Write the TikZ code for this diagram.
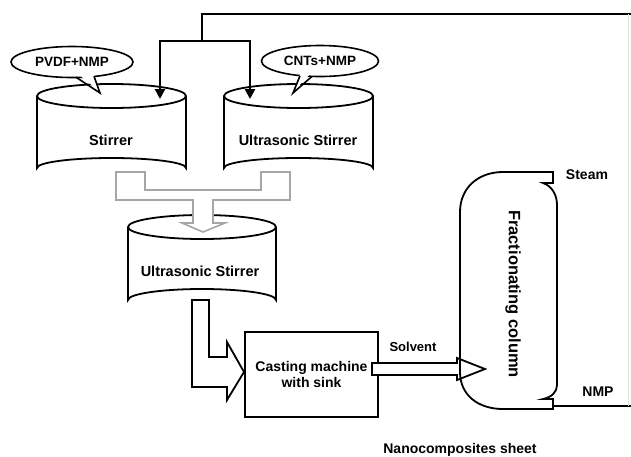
\documentclass[tikz,border=0pt]{standalone}
\usepackage{fontspec}
\setmainfont{Liberation Sans}
\usetikzlibrary{arrows.meta,shapes.geometric}

\tikzset{
  vessel/.style={draw=black, line width=1.8pt, fill=white},
  bubble/.style={ellipse, draw=black, line width=1.6pt, fill=white, inner sep=0pt,
    font=\bfseries\fontsize{13.5}{15}\selectfont},
  lbl/.style={font=\bfseries\fontsize{14}{16}\selectfont, align=center},
  feed/.style={line width=2.8pt, -{Triangle[length=10pt,width=10pt]}},
  pipe/.style={line width=2.8pt},
  merge/.style={draw=gray!70, line width=1.6pt, fill=white},
}

\begin{document}
\begin{tikzpicture}[x=1pt,y=-1pt]
  \useasboundingbox (0,0) rectangle (631,456);

  % Third vessel (mixing)
  \draw[vessel] (128,227) -- (128,300) arc (180:360:74 and 11) -- (276,227);
  \draw[vessel] (202,227) ellipse (74 and 12);
  \node[lbl, font=\bfseries\fontsize{14.5}{16}\selectfont] (mix) at (200,271) {Ultrasonic Stirrer};

  % Gray merging arrow from both stirrers
  \draw[merge] (116,172) -- (116,200) -- (193,200) -- (193,223) -- (182,223) -- (203,232)
    -- (225,223) -- (213,223) -- (213,200) -- (290,200) -- (290,172) -- (261,172)
    -- (261,190) -- (145,190) -- (145,172) -- cycle;

  % Two stirrers
  \draw[vessel] (37,96) -- (37,168) arc (180:360:74.5 and 10) -- (186,96);
  \draw[vessel] (111.5,96) ellipse (74.5 and 12);
  \node[lbl, font=\bfseries\fontsize{14.5}{16}\selectfont] (stir) at (111,140) {Stirrer};
  \draw[vessel] (224,96) -- (224,168) arc (180:360:74.5 and 10) -- (373,96);
  \draw[vessel] (298.5,96) ellipse (74.5 and 12);
  \node[lbl, font=\bfseries\fontsize{14.5}{16}\selectfont] (ultra) at (298,140) {Ultrasonic Stirrer};

  % Feed bubbles
  \node[bubble, minimum width=122pt, minimum height=31pt] (pvdf) at (72,62) {PVDF+NMP};
  \fill[white] (77,73) -- (100,92) -- (93,72) -- cycle;
  \draw[line width=1.6pt] (76,77.2) -- (100,93) -- (94,76.2);
  \node[bubble, minimum width=117pt, minimum height=31pt] (cnts) at (320,61) {CNTs+NMP};
  \fill[white] (301,72) -- (293,92) -- (311,73) -- cycle;
  \draw[line width=1.6pt] (300,75.8) -- (293,93) -- (312,76.4);

  % Recycled NMP line back to the stirrers
  \coordinate (ret) at (631,14);
  \coordinate (split) at (202,41);
  \coordinate (inA) at (160,99);
  \coordinate (inB) at (250,99);
  \draw[pipe] (ret) -| (split);
  \draw[feed] (split) -| (inA);
  \draw[feed] (split) -| (inB);

  % Outlet to casting machine
  \draw[line width=1.8pt, line join=miter] (192,300) -- (209,300) -- (209,357) -- (227,357)
    -- (227,342) -- (244,372) -- (227,400) -- (227,387) -- (192,387) -- cycle;
  \node[draw, line width=1.8pt, minimum width=133pt, minimum height=85pt, lbl] (cast)
    at (311.5,374.5) {Casting machine\\with sink};

  % Solvent to column
  \draw[line width=1.8pt, fill=white] (372,363) -- (457,363) -- (457,358) -- (485,369)
    -- (457,380) -- (457,375) -- (372,375) -- cycle;
  \node[lbl, font=\bfseries\fontsize{13}{15}\selectfont] (solv) at (413,347) {Solvent};

  % Fractionating column
  \draw[line width=1.8pt] (553,172) -- (553,183) -- (543,183)
    .. controls (552,186) and (557,195) .. (557,205) -- (557,385)
    .. controls (557,392) and (552,397) .. (543,399) -- (553,399) -- (553,409) -- (503,409)
    .. controls (478,409) and (460,395) .. (460,372) -- (460,212)
    .. controls (460,188) and (478,172) .. (503,172) -- cycle;
  \node[lbl, rotate=-90, font=\bfseries\fontsize{16.5}{18}\selectfont] (frac) at (513,294) {Fractionating column};
  \node[lbl] (steam) at (587,175) {Steam};
  \node[lbl] (nmp) at (598,392) {NMP};

  % NMP out, and the faint return riser
  \coordinate (bot) at (553,406);
  \coordinate (out) at (631,406);
  \draw[pipe, line width=2.6pt] (bot) -- (out);
  \draw[gray!25, line width=0.8pt] (628,14) -- (628,406);

  \node[lbl] (sheet) at (460,450) {Nanocomposites sheet};
\end{tikzpicture}
\end{document}
